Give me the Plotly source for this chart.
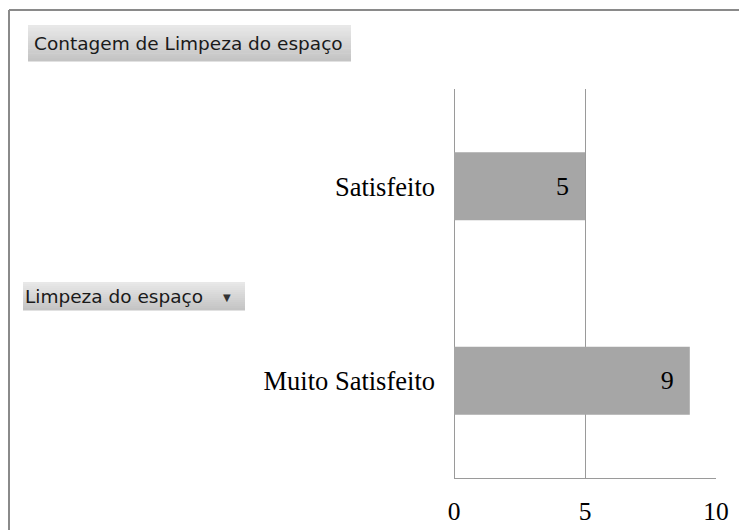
import plotly.graph_objects as go

categorias = ["Muito Satisfeito", "Satisfeito"]
contagens = [9, 5]
ticks_x = [0, 5, 10]
titulo_valores = "Contagem de Limpeza do espaço"
titulo_campo = "Limpeza do espaço"

# a pagina tem 8px de margem no body, por isso tudo vai deslocado
OFF = 8
W, H = 747 - OFF, 530 - OFF
L, R, T, B = 446, 31, 81, 52
pw, ph = W - L - R, H - T - B


def px_x(p):
    # p em pixels da janela
    return (p - OFF - L) / pw


def px_y(p):
    return (H - B - (p - OFF)) / ph


def gradiente(x0, x1, y0, y1, n=14, c0=232, c1=196):
    faixas = []
    passo = (y1 - y0) / n
    for i in range(n):
        c = round(c0 + (c1 - c0) * i / (n - 1))
        faixas.append(dict(
            type="rect", xref="paper", yref="paper", layer="above",
            x0=px_x(x0), x1=px_x(x1),
            y0=px_y(y0 + i * passo), y1=px_y(y0 + (i + 1) * passo + 0.5),
            fillcolor=f"rgb({c},{c},{c})", line=dict(width=0),
        ))
    return faixas


fig = go.Figure()
fig.add_trace(go.Bar(
    x=contagens,
    y=categorias,
    orientation="h",
    marker=dict(color="#a6a6a6", line=dict(width=0)),
    text=[f"{v}  " for v in contagens],
    textposition="inside",
    insidetextanchor="end",
    textfont=dict(family="Liberation Serif", size=26, color="black"),
    hoverinfo="skip",
))

fonte_botao = dict(family="DejaVu Sans", size=18.5, color="#1a1a1a")

fig.update_layout(
    width=W, height=H,
    margin=dict(l=L, r=R, t=T, b=B, pad=0),
    plot_bgcolor="white",
    paper_bgcolor="white",
    showlegend=False,
    bargap=0.65,
    xaxis=dict(
        range=[0, 10],
        tickvals=ticks_x,
        automargin=False,
        showgrid=True, gridcolor="#9a9a9a", gridwidth=1,
        zeroline=True, zerolinecolor="#9a9a9a", zerolinewidth=1,
        showline=True, linecolor="#9a9a9a", linewidth=1,
        ticks="", ticklabelstandoff=10,
        tickfont=dict(family="Liberation Serif", size=25.5, color="black"),
        fixedrange=True,
    ),
    yaxis=dict(
        categoryorder="array", categoryarray=categorias,
        automargin=False,
        showgrid=False, zeroline=False, showline=False,
        ticks="", ticklabelstandoff=18,
        tickfont=dict(family="Liberation Serif", size=26.5, color="black"),
        fixedrange=True,
    ),
    shapes=[
        # moldura externa
        dict(type="line", xref="paper", yref="paper",
             x0=px_x(9), x1=px_x(770), y0=px_y(10), y1=px_y(10),
             line=dict(color="#8a8a8a", width=2)),
        dict(type="line", xref="paper", yref="paper",
             x0=px_x(9), x1=px_x(9), y0=px_y(10), y1=px_y(560),
             line=dict(color="#8a8a8a", width=2)),
    ] + gradiente(28, 351, 25, 61) + gradiente(23, 245, 282, 310),
    annotations=[
        dict(text=titulo_valores, xref="paper", yref="paper",
             x=px_x(28), y=px_y(25), xanchor="left", yanchor="top",
             width=311, height=24, align="left",
             showarrow=False, borderpad=6, borderwidth=0,
             font=fonte_botao),
        dict(text=titulo_campo, xref="paper", yref="paper",
             x=px_x(23), y=px_y(282), xanchor="left", yanchor="top",
             width=218, height=24, align="left",
             showarrow=False, borderpad=2, borderwidth=0,
             font=fonte_botao),
        dict(text="▼", xref="paper", yref="paper",
             x=px_x(227), y=px_y(297), xanchor="center", yanchor="middle",
             showarrow=False, font=dict(family="DejaVu Sans", size=10, color="#333333")),
    ],
)

fig.write_html("out.html")
